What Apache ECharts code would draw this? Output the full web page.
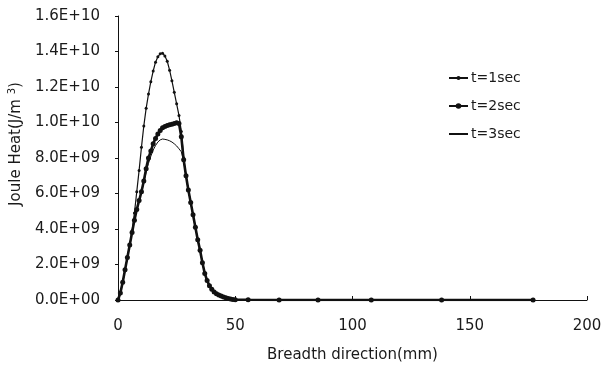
<!DOCTYPE html>
<html>
<head>
<meta charset="utf-8">
<script src="https://cdn.jsdelivr.net/npm/echarts@6/dist/echarts.min.js"></script>
<style>html,body{margin:0;padding:0;background:#fff}#c{width:614px;height:365px}</style>
</head>
<body>
<div id="c"></div>
<script>
// x positions (mm)
const xs = [0,1,2,3,4,5,6,7,8,9,10,11,12,13,14,15,16,17,18,19,20,21,22,23,24,25,26,27,28,29,30,31,32,33,34,35,36,37,38,39,40,41,42,43,44,45,46,47,48,49,50,55.5,68.7,85.3,108,138,177];
// values in units of 1E9 J/m^3
const t1 = [0,0.4,1.0,1.7,2.4,3.1,3.9,4.9,6.1,7.3,8.6,9.8,10.8,11.6,12.3,12.9,13.4,13.7,13.88,13.9,13.75,13.45,12.95,12.35,11.7,11.05,10.4,9.5,8.0,7.0,6.2,5.5,4.8,4.1,3.4,2.8,2.1,1.5,1.1,0.8,0.6,0.45,0.35,0.28,0.22,0.17,0.12,0.08,0.05,0.03,0.02,0.01,0,0,0,0,0];
const t2 = [0,0.4,1.0,1.7,2.4,3.1,3.8,4.5,5.1,5.6,6.1,6.7,7.4,8.0,8.4,8.8,9.1,9.35,9.55,9.7,9.78,9.83,9.87,9.9,9.95,9.98,9.95,9.2,7.9,7.0,6.2,5.5,4.8,4.1,3.4,2.8,2.1,1.5,1.1,0.8,0.6,0.45,0.35,0.28,0.22,0.17,0.12,0.08,0.05,0.03,0.02,0.01,0,0,0,0,0];
const t3 = [0,0.4,1.0,1.7,2.4,3.1,3.8,4.5,5.1,5.6,6.1,6.6,7.2,7.7,8.1,8.45,8.7,8.9,9.02,9.07,9.05,9.02,8.97,8.9,8.8,8.68,8.52,8.35,7.8,7.0,6.2,5.5,4.8,4.1,3.4,2.8,2.1,1.5,1.1,0.8,0.6,0.45,0.35,0.28,0.22,0.17,0.12,0.08,0.05,0.03,0.02,0.01,0,0,0,0,0];
const seriesNames = ['t=1sec','t=2sec','t=3sec'];

const UNIT = 1e9;
function pairs(arr){ return xs.map((x,i)=>[x, arr[i]*UNIT]); }
function fmtE(v){
  if (v === 0) return '0.0E+00';
  const s = v.toExponential(1);
  const m = s.split('e');
  const sign = m[1][0];
  let e = m[1].slice(1);
  if (e.length < 2) e = '0' + e;
  return m[0] + 'E' + sign + e;
}
const font = 'DejaVu Sans, Verdana, sans-serif';
const txt = '#1a1a1a';
function leg(name, top, h){
  return {
    orient: 'vertical', left: 443, top: top, itemGap: 0,
    itemWidth: 19, itemHeight: h,
    textStyle: {fontSize: 14, color: txt, fontFamily: font, padding: [0,0,0,-2]},
    data: [name]
  };
}
const chart = echarts.init(document.getElementById('c'));
chart.setOption({
  animation: false,
  backgroundColor: '#fff',
  textStyle: {fontFamily: font, color: txt},
  grid: {left: 118, right: 27, top: 16, bottom: 65, containLabel: false, outerBoundsMode: 'none'},
  legend: [leg(seriesNames[0], 66, 5), leg(seriesNames[1], 94, 7), leg(seriesNames[2], 122, 1)],
  xAxis: {
    type: 'value', min: 0, max: 200, interval: 50,
    name: 'Breadth direction(mm)', nameLocation: 'middle', nameGap: 48,
    nameTextStyle: {fontSize: 15, color: txt, fontFamily: font},
    axisLine: {show: true, lineStyle: {color: '#111', width: 1}},
    axisTick: {show: true, inside: true, length: 4, lineStyle: {color: '#111'}},
    axisLabel: {fontSize: 15, color: txt, margin: 19, fontFamily: font},
    splitLine: {show: false}
  },
  yAxis: {
    type: 'value', min: 0, max: 16*UNIT, interval: 2*UNIT,
    name: 'Joule Heat(J/m {sup|3})', nameLocation: 'middle', nameGap: 92,
    nameTextStyle: {fontSize: 15, color: txt, fontFamily: font, padding: [0,0,0,28],
      rich: {sup: {fontSize: 10, fontFamily: font, verticalAlign: 'top', padding: [0,0,9,0]}}},
    axisLine: {show: true, lineStyle: {color: '#111', width: 1}},
    axisTick: {show: true, inside: false, length: 3, lineStyle: {color: '#111'}},
    axisLabel: {fontSize: 15, color: txt, margin: 18, formatter: fmtE, fontFamily: font},
    splitLine: {show: false}
  },
  series: [
    {name: seriesNames[0], type: 'line', data: pairs(t1), symbol: 'circle', symbolSize: 3,
     itemStyle: {color: '#111'}, lineStyle: {color: '#111', width: 1.2}},
    {name: seriesNames[1], type: 'line', data: pairs(t2), symbol: 'circle', symbolSize: 5,
     itemStyle: {color: '#111'}, lineStyle: {color: '#111', width: 2.6}},
    {name: seriesNames[2], type: 'line', data: pairs(t3), symbol: 'none', showSymbol: false,
     itemStyle: {color: '#111'}, lineStyle: {color: '#111', width: 1}}
  ]
});
</script>
</body>
</html>
